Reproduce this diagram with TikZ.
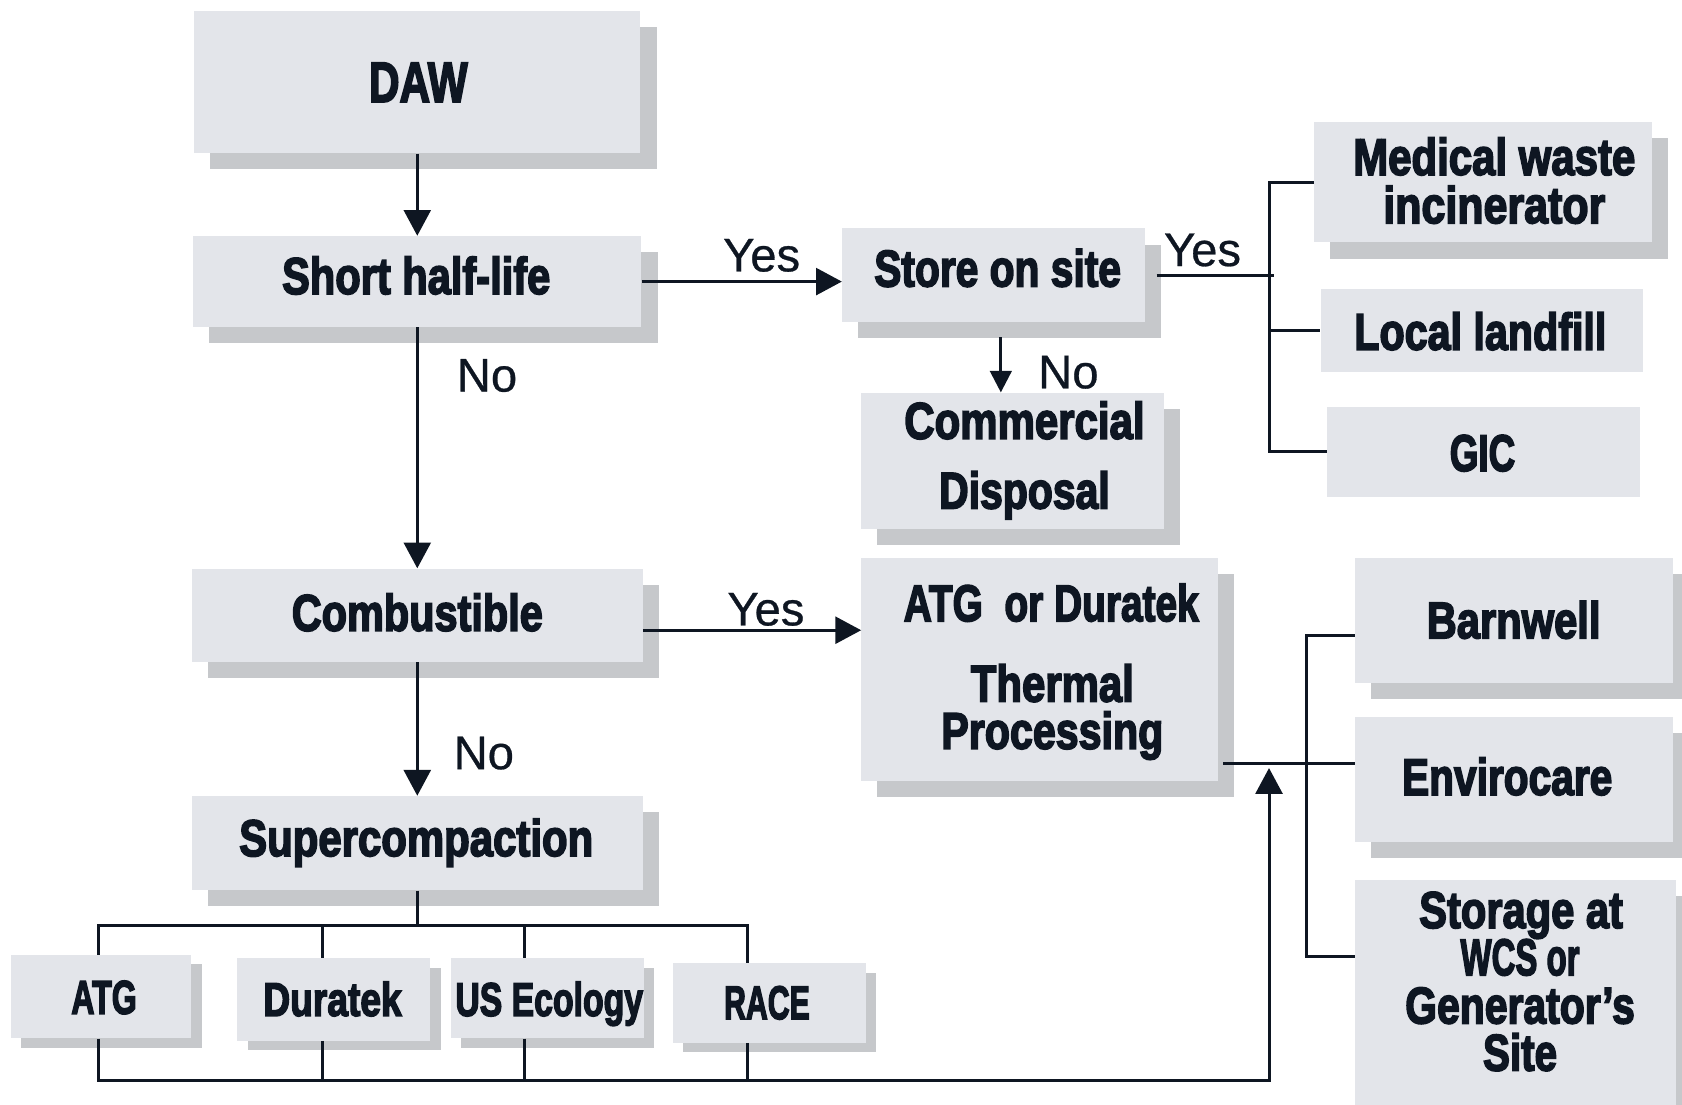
\documentclass[tikz,border=0pt]{standalone}
\usepackage{fontspec}
\usepackage{graphicx}
\usetikzlibrary{arrows.meta,shadows}
\newfontfamily\impfont[FakeBold=3.5]{Liberation Sans Bold}
\newfontfamily\lblfont[FakeBold=0.6]{Liberation Sans}
\definecolor{boxfill}{HTML}{E3E5EA}
\definecolor{shadowgrey}{HTML}{C6C8CB}
\definecolor{ink}{HTML}{0E1622}
\newcommand\fw[2]{\resizebox{#1pt}{\height}{#2}}
\begin{document}
\begin{tikzpicture}[x=1pt,y=-1pt,
  box/.style={fill=boxfill, draw=none, inner sep=0pt},
  shbox/.style={box, drop shadow={shadow xshift=15pt, shadow yshift=-15pt, fill=shadowgrey, opacity=1}},
  smbox/.style={box, drop shadow={shadow xshift=10pt, shadow yshift=-9pt, fill=shadowgrey, opacity=1}},
  txt/.style={font=\impfont\fontsize{48}{48}\selectfont, text=ink, inner sep=0pt, anchor=base},
  smtxt/.style={font=\impfont\fontsize{44}{44}\selectfont, text=ink, inner sep=0pt, anchor=base},
  lbl/.style={font=\lblfont\fontsize{44}{44}\selectfont, text=ink, inner sep=0pt, anchor=base},
  conn/.style={line width=2.8pt, draw=ink},
  arr/.style={conn, -{Triangle[length=24pt,width=25pt]}},
  sarr/.style={conn, -{Triangle[length=20pt,width=20pt]}}]
\useasboundingbox (0,0) rectangle (1568,1030);

% boxes
\node[shbox, minimum width=416pt, minimum height=133pt] (daw) at (389,76.5) {};
\node[shbox, minimum width=418pt, minimum height=85pt] (short) at (389,262.5) {};
\node[shbox, minimum width=282pt, minimum height=87pt] (store) at (926,256.5) {};
\node[shbox, minimum width=315pt, minimum height=112pt] (med) at (1382.5,170) {};
\node[box, minimum width=301pt, minimum height=78pt] (land) at (1381.5,308) {};
\node[box, minimum width=292pt, minimum height=84pt] (gic) at (1383,421) {};
\node[shbox, minimum width=282pt, minimum height=127pt] (comm) at (944,429.5) {};
\node[shbox, minimum width=420pt, minimum height=87pt] (comb) at (389,573.5) {};
\node[shbox, minimum width=332pt, minimum height=208pt] (atgd) at (969,624) {};
\node[shbox, minimum width=297pt, minimum height=117pt] (barn) at (1411.5,578.5) {};
\node[shbox, minimum width=297pt, minimum height=117pt] (envi) at (1411.5,726.5) {};
\node[shbox, minimum width=299pt, minimum height=210pt] (stor) at (1412.5,925) {};
\node[shbox, minimum width=420pt, minimum height=88pt] (super) at (389,786) {};
\node[smbox, minimum width=168pt, minimum height=78pt] (atgS) at (94,929) {};
\node[smbox, minimum width=180pt, minimum height=77pt] (duraS) at (311,931.5) {};
\node[smbox, minimum width=180pt, minimum height=75pt] (usecS) at (510,930.5) {};
\node[smbox, minimum width=180pt, minimum height=74pt] (raceS) at (717,935) {};

% texts
\node[txt, font=\impfont\fontsize{53}{53}\selectfont] (dawT) at (390,95) {\fw{92}{DAW}};
\node[txt] (shortT) at (388,274) {\fw{250}{Short half-life}};
\node[txt] (storeT) at (930,267) {\fw{230}{Store on site}};
\node[txt] (medT1) at (1393,163) {\fw{263}{Medical waste}};
\node[txt] (medT2) at (1393,208) {\fw{207}{incinerator}};
\node[txt] (landT) at (1380,326) {\fw{235}{Local landfill}};
\node[txt] (gicT) at (1382,439) {\fw{61}{GIC}};
\node[txt] (commT1) at (955,409) {\fw{224}{Commercial}};
\node[txt] (commT2) at (955,474) {\fw{159}{Disposal}};
\node[txt] (combT) at (389,588) {\fw{234}{Combustible}};
\node[txt] (atgdT1) at (980,579) {\fw{275}{ATG\ \ or Duratek}};
\node[txt] (atgdT2) at (981,654) {\fw{152}{Thermal}};
\node[txt] (atgdT3) at (981,698) {\fw{207}{Processing}};
\node[txt] (barnT) at (1411,595) {\fw{162}{Barnwell}};
\node[txt] (enviT) at (1405,741) {\fw{196}{Envirocare}};
\node[txt] (storT1) at (1418,865) {\fw{190}{Storage at}};
\node[txt] (storT2) at (1417,909) {\fw{111}{WCS or}};
\node[txt] (storT3) at (1417,954) {\fw{214}{Generator’s}};
\node[txt] (storT4) at (1417,998) {\fw{69}{Site}};
\node[txt] (superT) at (388,798) {\fw{330}{Supercompaction}};
\node[smtxt] (atgST) at (97,945) {\fw{61}{ATG}};
\node[smtxt] (duraST) at (310,947) {\fw{129}{Duratek}};
\node[smtxt] (usecST) at (512,947) {\fw{175}{US Ecology}};
\node[smtxt] (raceST) at (715,950) {\fw{80}{RACE}};

% labels
\node[lbl] (yes1) at (710,253) {Yes};
\node[lbl] (yes2) at (1121,248) {Yes};
\node[lbl] (no1) at (454,365) {No};
\node[lbl] (no2) at (996,362) {No};
\node[lbl] (yes3) at (714,583) {Yes};
\node[lbl] (no3) at (451,717) {No};

% junction coordinates
\coordinate (tj) at (1183,256.5);
\coordinate (rjTop) at (1218,592);
\coordinate (rmid) at (1218,712);
\coordinate (rjBot) at (1218,892);
\coordinate (tt) at (389,863);
\coordinate (retTurn) at (1183,1007);

% connectors
\draw[arr] (daw.south) -- (short.north);
\draw[arr] (short.south) -- (comb.north);
\draw[arr] (short.east) -- (store.west |- short.east);
\draw[sarr] ([shift={(7,14)}]store.south) -- ([xshift=7pt]store.south |- comm.north);
\draw[arr] (comb.south) -- (super.north);
\draw[arr] ([yshift=-14pt]comb.east) -- ([yshift=-14pt]comb.east -| atgd.west);

\draw[conn] ([xshift=11pt]store.east) -- ([xshift=5pt]tj);
\draw[conn] (med.west) -- (med.west -| tj) -- (gic.west -| tj) -- (gic.west);
\draw[conn] (land.west -| tj) -- (land.west);

\draw[conn] (rjTop -| barn.west) -- (rjTop) -- (rjBot) -- (rjBot -| stor.west);
\draw[conn] ([xshift=5pt]atgd.east |- rmid) -- (rmid -| envi.west);

\draw[conn] (super.south) -- (tt);
\draw[conn] ([xshift=-2pt]atgS.north) -- ([xshift=-2pt]atgS.north |- tt) -- ([xshift=-20pt]raceS.north |- tt) -- ([xshift=-20pt]raceS.north);
\draw[conn] ([xshift=-10pt]duraS.north |- tt) -- ([xshift=-10pt]duraS.north);
\draw[conn] ([xshift=-21pt]usecS.north |- tt) -- ([xshift=-21pt]usecS.north);

\draw[conn] ([xshift=-10pt]duraS.south) -- ([xshift=-10pt]duraS.south |- retTurn);
\draw[conn] ([xshift=-21pt]usecS.south) -- ([xshift=-21pt]usecS.south |- retTurn);
\draw[conn] ([xshift=-20pt]raceS.south) -- ([xshift=-20pt]raceS.south |- retTurn);
\draw[arr] ([xshift=-2pt]atgS.south) -- ([xshift=-2pt]atgS.south |- retTurn) -- (retTurn) -- ([yshift=-4pt]retTurn |- rmid);
\end{tikzpicture}
\end{document}
